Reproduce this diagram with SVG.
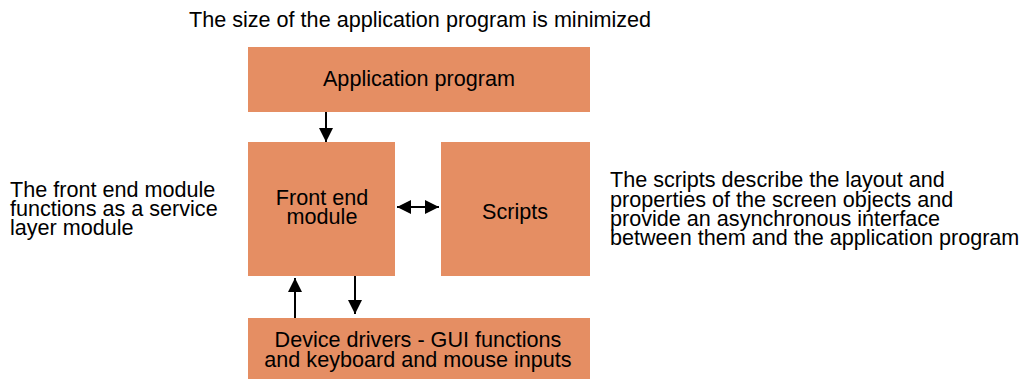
<svg xmlns="http://www.w3.org/2000/svg" width="1027" height="379" viewBox="0 0 1027 379">
<defs>
<style>
.box{fill:#E58E63;}
.t{font-family:"Liberation Sans",Arial,sans-serif;font-size:21.6px;fill:#000;}
.c{text-anchor:middle;}
.ln{stroke:#000;stroke-width:2;fill:none;}
</style>
<marker id="ah" viewBox="0 0 10 10" refX="10" refY="5" markerWidth="7" markerHeight="7" orient="auto-start-reverse" markerUnits="strokeWidth">
<path d="M0,0 L10,5 L0,10 z" fill="#000"/>
</marker>
</defs>
<rect width="1027" height="379" fill="#fff"/>
<text class="t" x="189" y="27">The size of the application program is minimized</text>
<g id="app"><rect class="box" x="248" y="47" width="342" height="65"/><text class="t c" x="419" y="86">Application program</text></g>
<g id="front"><rect class="box" x="248" y="142" width="147" height="134"/><text class="t c" x="322" y="205">Front end</text><text class="t c" x="322" y="224">module</text></g>
<g id="scripts"><rect class="box" x="441" y="142" width="149" height="134"/><text class="t c" x="515" y="219">Scripts</text></g>
<g id="drivers"><rect class="box" x="248" y="318" width="342" height="61"/><text class="t c" x="418" y="347">Device drivers - GUI functions</text><text class="t c" x="418" y="367">and keyboard and mouse inputs</text></g>
<g id="note-left"><text class="t" x="10" y="197">The front end module</text><text class="t" x="10" y="216">functions as a service</text><text class="t" x="10" y="235">layer module</text></g>
<g id="note-right"><text class="t" x="610" y="187">The scripts describe the layout and</text><text class="t" x="610" y="206.5">properties of the screen objects and</text><text class="t" x="610" y="226">provide an asynchronous interface</text><text class="t" x="610" y="245">between them and the application program</text></g>
<g id="connectors">
<line class="ln" x1="326" y1="112" x2="326" y2="142" marker-end="url(#ah)"/>
<line class="ln" x1="397" y1="207" x2="439" y2="207" marker-start="url(#ah)" marker-end="url(#ah)"/>
<line class="ln" x1="295" y1="318" x2="295" y2="278" marker-end="url(#ah)"/>
<line class="ln" x1="355" y1="276" x2="355" y2="314" marker-end="url(#ah)"/>
</g>
</svg>
